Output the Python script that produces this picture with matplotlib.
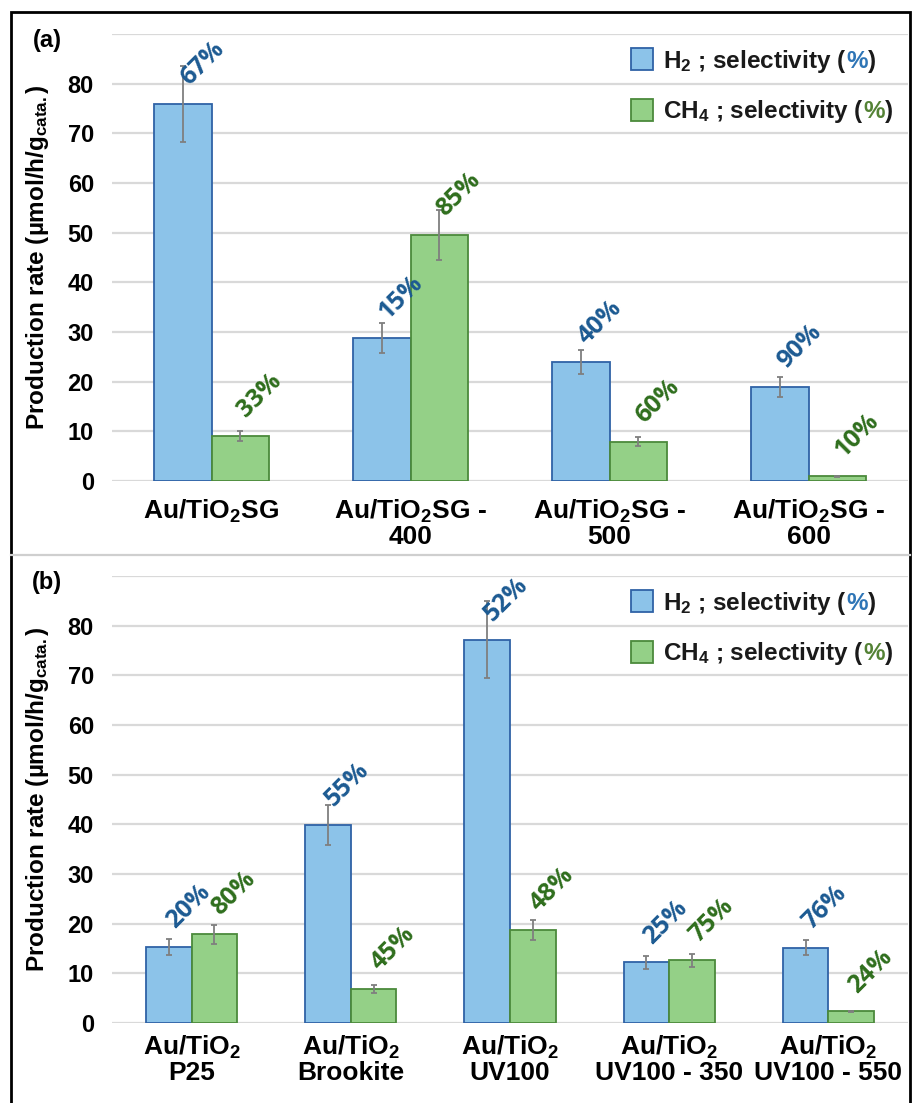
import matplotlib
matplotlib.use('Agg')
import matplotlib.pyplot as plt
from matplotlib.patches import Rectangle
from matplotlib.lines import Line2D
import numpy as np

plt.rcParams['font.family'] = ['Liberation Sans', 'DejaVu Sans']
plt.rcParams['font.weight'] = 'bold'
plt.rcParams['axes.labelweight'] = 'bold'
plt.rcParams['mathtext.fontset'] = 'custom'
plt.rcParams['mathtext.rm'] = 'Liberation Sans:bold'
plt.rcParams['mathtext.it'] = 'Liberation Sans:bold'
plt.rcParams['mathtext.bf'] = 'Liberation Sans:bold'
plt.rcParams['mathtext.default'] = 'rm'

# ---------------- data ----------------
cats_a = ["Au/TiO$_2$SG", "Au/TiO$_2$SG -\n400", "Au/TiO$_2$SG -\n500", "Au/TiO$_2$SG -\n600"]
h2_a = [75.9, 28.8, 23.9, 18.9]
h2_err_a = [7.6, 3.0, 2.45, 2.0]
ch4_a = [9.1, 49.5, 7.9, 1.0]
ch4_err_a = [1.0, 5.0, 0.9, 0.1]
h2_sel_a = [67, 15, 40, 90]
ch4_sel_a = [33, 85, 60, 10]

cats_b = ["Au/TiO$_2$\nP25", "Au/TiO$_2$\nBrookite", "Au/TiO$_2$\nUV100",
          "Au/TiO$_2$\nUV100 - 350", "Au/TiO$_2$\nUV100 - 550"]
h2_b = [15.3, 39.9, 77.2, 12.2, 15.2]
h2_err_b = [1.6, 4.0, 7.7, 1.3, 1.55]
ch4_b = [17.9, 6.85, 18.8, 12.6, 2.35]
ch4_err_b = [1.9, 0.75, 2.0, 1.35, 0.1]
h2_sel_b = [20, 55, 52, 25, 76]
ch4_sel_b = [80, 45, 48, 75, 24]

yticks = [0, 10, 20, 30, 40, 50, 60, 70, 80]
ylabel = "Production rate (µmol/h/g$_{\\mathrm{cata.}}$)"
leg_h2 = "H$_2$ ; selectivity ("
leg_ch4 = "CH$_4$ ; selectivity ("

# ---------------- style ----------------
BLUE = '#8cc3e9'
BLUE_E = '#2f62a6'
GREEN = '#94d087'
GREEN_E = '#4b8a3b'
GRID = '#d9d9d9'
ERR = '#7f7f7f'
LBL_BLUE = '#1c5a92'
LBL_GREEN = '#2f6e1d'
PCT_BLUE = '#2e75b6'
PCT_GREEN = '#548235'

W, H, DPI = 913, 1103, 100
fig = plt.figure(figsize=(W / DPI, H / DPI), dpi=DPI)
fig.patch.set_facecolor('white')


def px_axes(left, top, right, bottom):
    return fig.add_axes([left / W, 1 - bottom / H, (right - left) / W, (bottom - top) / H])


axA = px_axes(112, 34, 908, 481)
axB = px_axes(112, 576, 908, 1023)


def draw_panel(ax, cats, h2, h2e, ch4, ch4e, h2s, ch4s, xpad):
    n = len(cats)
    x = np.arange(n)
    w = 0.287
    ax.set_xlim(-0.5, n - 0.5)
    ax.set_ylim(0, 90)
    for v in list(yticks) + [90]:
        ax.axhline(v, color=GRID, lw=1.6, zorder=0)
    ax.bar(x - w / 2, h2, w, color=BLUE, edgecolor=BLUE_E, lw=1.3, zorder=2)
    ax.bar(x + w / 2, ch4, w, color=GREEN, edgecolor=GREEN_E, lw=1.3, zorder=2)
    ax.errorbar(x - w / 2, h2, yerr=h2e, fmt='none', ecolor=ERR, elinewidth=1.3,
                capsize=2.5, capthick=1.3, zorder=3)
    ax.errorbar(x + w / 2, ch4, yerr=ch4e, fmt='none', ecolor=ERR, elinewidth=1.3,
                capsize=2.5, capthick=1.3, zorder=3)
    for xs, vals, sels, col in ((x - w / 2, h2, h2s, LBL_BLUE), (x + w / 2, ch4, ch4s, LBL_GREEN)):
        for xi, v, s in zip(xs, vals, sels):
            ax.annotate(f"{s}%", xy=(xi, v), xytext=(14, 29), textcoords='offset points',
                        rotation=45, ha='center', va='center', color=col,
                        fontsize=18, fontfamily='Open Sans', fontweight='bold',
                        annotation_clip=False, zorder=4)
    for sp in ax.spines.values():
        sp.set_visible(False)
    ax.set_yticks(yticks)
    ax.set_yticklabels([str(t) for t in yticks])
    ax.set_xticks(x)
    ax.set_xticklabels(cats)
    ax.tick_params(axis='y', length=0, pad=13, labelsize=17)
    ax.tick_params(axis='x', length=0, pad=xpad, labelsize=19)
    for t in ax.get_xticklabels():
        t.set_linespacing(1.0)
    ax.set_ylabel(ylabel, fontsize=17.5, fontweight='bold')
    ax.yaxis.label.set_va('center')
    ax.yaxis.set_label_coords(-0.093, 0.5)
    ax.set_facecolor('white')


draw_panel(axA, cats_a, h2_a, h2_err_a, ch4_a, ch4_err_a, h2_sel_a, ch4_sel_a, 12)
draw_panel(axB, cats_b, h2_b, h2_err_b, ch4_b, ch4_err_b, h2_sel_b, ch4_sel_b, 8)

fig.canvas.draw()
renderer = fig.canvas.get_renderer()


def legend(ax):
    rows = [(0.944, BLUE, BLUE_E, leg_h2, PCT_BLUE), (0.831, GREEN, GREEN_E, leg_ch4, PCT_GREEN)]
    ph = 22 / 447
    pw = 22 / 796
    for yc, face, edge, label, pcol in rows:
        ax.add_patch(Rectangle((0.652, yc - ph / 2), pw, ph, transform=ax.transAxes,
                               facecolor=face, edgecolor=edge, lw=1.3, clip_on=False, zorder=5))
        yb = yc - 0.020
        t1 = ax.text(0.692, yb, label, transform=ax.transAxes, va='baseline', ha='left',
                     fontsize=17.5, color='#1a1a1a', zorder=5)
        w1 = t1.get_window_extent(renderer).width * 72 / DPI
        t2 = ax.annotate("%", xy=(0.692, yb), xycoords='axes fraction', xytext=(w1, 0),
                         textcoords='offset points', va='baseline', ha='left',
                         fontsize=17.5, color=pcol, zorder=5)
        w2 = t2.get_window_extent(renderer).width * 72 / DPI
        ax.annotate(")", xy=(0.692, yb), xycoords='axes fraction', xytext=(w1 + w2, 0),
                    textcoords='offset points', va='baseline', ha='left',
                    fontsize=17.5, color='#1a1a1a', zorder=5)


legend(axA)
legend(axB)

fig.text(47 / W, 1 - 41 / H, "(a)", ha='center', va='center', fontsize=17)
fig.text(47 / W, 1 - 583 / H, "(b)", ha='center', va='center', fontsize=17)

# separator and frame
fig.add_artist(Line2D([11 / W, 910 / W], [1 - 555 / H, 1 - 555 / H], transform=fig.transFigure,
                      color='#cfcfcf', lw=1.6))
fig.add_artist(Rectangle((11 / W, -0.02), (910 - 11) / W, 1 - 12 / H + 0.02,
                         transform=fig.transFigure, fill=False, ec='black', lw=2))

fig.savefig('out.png', dpi=DPI, facecolor='white')
